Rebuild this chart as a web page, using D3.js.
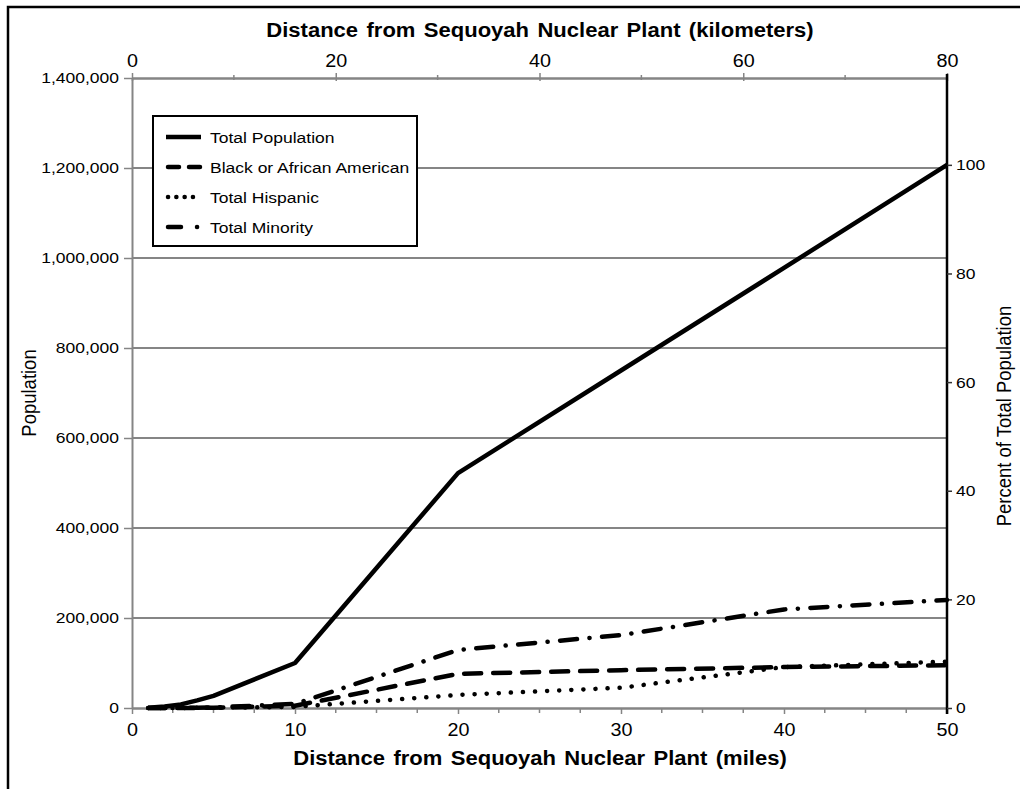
<!DOCTYPE html>
<html>
<head>
<meta charset="utf-8">
<script src="https://cdn.jsdelivr.net/npm/d3@7"></script>
<style>
	body { margin: 0; background: #fff; }
	svg { display: block; font-family: "Liberation Sans", Arial, sans-serif; }
</style>
</head>
<body>
<svg width="1020" height="789"></svg>
<script>
// distance rings (miles) and cumulative population
const miles = [1, 2, 3, 4, 5, 10, 20, 30, 40, 50];
const totalPop = [800, 3500, 8000, 17000, 27000, 100000, 522000, 750000, 978000, 1207000];
const blackPop = [0, 50, 150, 300, 500, 5000, 76000, 84000, 91000, 95000];
const hispanicPop = [10, 50, 150, 350, 600, 2500, 29000, 45000, 91000, 103000];
const minorityPop = [50, 150, 400, 800, 1300, 9000, 129000, 162000, 219000, 240000];

const popTicks = [0, 200000, 400000, 600000, 800000, 1000000, 1200000, 1400000];
const mileTicks = [0, 10, 20, 30, 40, 50];
const kmTicks = [0, 20, 40, 60, 80];
const pctTicks = [0, 20, 40, 60, 80, 100];

const seriesNames = ["Total Population", "Black or African American", "Total Hispanic", "Total Minority"];

const svg = d3.select("svg");
const SX = 1.13; // text in the original is a bit wide
const gray = "#858585";

const pLeft = 132, pRight = 947, pTop = 78, pBottom = 708;

const x = d3.scaleLinear().domain([0, 50]).range([pLeft, pRight]);
const xKm = d3.scaleLinear().domain([0, 80]).range([pLeft, pRight]);
const y = d3.scaleLinear().domain([0, 1400000]).range([pBottom, pTop]);
const total50 = totalPop[totalPop.length - 1];
const yPct = d3.scaleLinear().domain([0, 100 * 1400000 / total50]).range([pBottom, pTop]);

// outer frame (only left/top show)
svg.append("rect")
	.attr("x", 8).attr("y", 7)
	.attr("width", 1040).attr("height", 820)
	.attr("fill", "none").attr("stroke", "#000").attr("stroke-width", 2.5);

// gridlines
svg.append("g").selectAll("line")
	.data(popTicks.filter(d => d > 0 && d < 1400000))
	.enter().append("line")
	.attr("x1", pLeft).attr("x2", pRight)
	.attr("y1", d => y(d)).attr("y2", d => y(d))
	.attr("stroke", gray).attr("stroke-width", 2);

function styleAxis(g, color, width, size) {
	g.select(".domain").attr("stroke", color).attr("stroke-width", width);
	g.selectAll(".tick line").attr("stroke", color).attr("stroke-width", 1.5);
	g.selectAll(".tick text")
		.attr("fill", "#000")
		.style("font-size", size + "px")
		.style("font-family", '"Liberation Sans", Arial, sans-serif');
}

// left axis
const gLeft = svg.append("g")
	.attr("transform", "translate(" + pLeft + ",0)")
	.call(d3.axisLeft(y).tickValues(popTicks).tickSize(8).tickSizeOuter(0).tickFormat(d3.format(",")).tickPadding(6));
styleAxis(gLeft, gray, 2, 15.5);
gLeft.selectAll(".tick text").attr("transform", "scale(" + SX + ",1)").attr("x", -13 / SX);

// bottom axis
const gBottom = svg.append("g")
	.attr("transform", "translate(0," + pBottom + ")")
	.call(d3.axisBottom(x).tickValues(mileTicks).tickSize(6).tickSizeOuter(0).tickPadding(6));
styleAxis(gBottom, gray, 2.5, 17.5);
gBottom.selectAll(".tick text").attr("transform", "scale(" + SX + ",1)").attr("x", 0).attr("dy", "0.9em");

svg.append("g").selectAll("line")
	.data(d3.range(0, 50.01, 2.5).filter(d => d % 10 !== 0))
	.enter().append("line")
	.attr("x1", d => x(d)).attr("x2", d => x(d))
	.attr("y1", pBottom).attr("y2", pBottom + 5)
	.attr("stroke", gray).attr("stroke-width", 1.5);

// top axis (km)
const gTop = svg.append("g")
	.attr("transform", "translate(0," + pTop + ")")
	.call(d3.axisTop(xKm).tickValues(kmTicks).tickSize(5).tickSizeOuter(0).tickPadding(6));
styleAxis(gTop, gray, 2.5, 17.5);
gTop.selectAll(".tick text").attr("transform", "scale(" + SX + ",1)").attr("x", 0);
gTop.selectAll(".tick line").attr("y2", -5).attr("y1", 3);

svg.append("g").selectAll("line")
	.data([10, 30, 50, 70])
	.enter().append("line")
	.attr("x1", d => xKm(d)).attr("x2", d => xKm(d))
	.attr("y1", pTop - 3).attr("y2", pTop + 2)
	.attr("stroke", gray).attr("stroke-width", 1.5);

// right axis (percent)
const gRight = svg.append("g")
	.attr("transform", "translate(" + pRight + ",0)")
	.call(d3.axisRight(yPct).tickValues(pctTicks).tickSize(5).tickSizeOuter(0).tickPadding(5));
styleAxis(gRight, "#000", 2.5, 15.5);
gRight.select(".domain").attr("d", "M0," + (pTop - 4) + "V" + (pBottom + 6));
gRight.selectAll(".tick line").attr("stroke", "#333");
gRight.selectAll(".tick text").attr("transform", "scale(" + SX + ",1)").attr("x", 9 / SX);

// series lines
const lineGen = vals => d3.line()
	.x((d, i) => x(miles[i]))
	.y(d => y(d))(vals);

const styles = [
	{ vals: totalPop, dash: null, legendDash: null },
	{ vals: blackPop, dash: "17,12", legendDash: "11,10" },
	{ vals: hispanicPop, dash: "0.1,12", legendDash: "0.1,8.2" },
	{ vals: minorityPop, dash: "17,12.5,0.1,12.5", legendDash: "13,16,0.1,30" }
];

svg.append("g").selectAll("path")
	.data(styles)
	.enter().append("path")
	.attr("d", d => lineGen(d.vals))
	.attr("fill", "none")
	.attr("stroke", "#000")
	.attr("stroke-width", 4.5)
	.attr("stroke-linecap", d => d.dash ? "round" : "butt")
	.attr("stroke-linejoin", "round")
	.attr("stroke-dasharray", d => d.dash);

// legend
const legend = svg.append("g");
legend.append("rect")
	.attr("x", 153).attr("y", 116)
	.attr("width", 264).attr("height", 130)
	.attr("fill", "#fff").attr("stroke", "#000").attr("stroke-width", 2);

const rowY = d3.scalePoint().domain(seriesNames).range([137, 227]);
const rows = legend.selectAll("g.row")
	.data(styles)
	.enter().append("g")
	.attr("transform", (d, i) => "translate(0," + rowY(seriesNames[i]) + ")");

rows.append("line")
	.attr("x1", (d, i) => i === 0 ? 166 : 168).attr("x2", 201)
	.attr("stroke", "#000").attr("stroke-width", 4.5)
	.attr("stroke-linecap", d => d.legendDash ? "round" : "butt")
	.attr("stroke-dasharray", d => d.legendDash);

rows.append("text")
	.attr("transform", "translate(210,0) scale(" + SX + ",1)")
	.attr("dy", "0.36em")
	.style("font-size", "15.5px")
	.text((d, i) => seriesNames[i]);

// titles
function addText(txt, tx, ty, size, weight, rotate) {
	svg.append("text")
		.attr("transform", "translate(" + tx + "," + ty + ") scale(" + SX + ",1)" + (rotate ? " rotate(-90)" : ""))
		.attr("text-anchor", "middle")
		.style("font-size", size + "px")
		.style("font-weight", weight)
		.style("word-spacing", weight === "bold" ? "2px" : "0px")
		.text(txt);
}

addText("Distance from Sequoyah Nuclear Plant (kilometers)", 540, 37, 19.5, "bold", false);
addText("Distance from Sequoyah Nuclear Plant (miles)", 540, 765, 19.5, "bold", false);
addText("Population", 36, 393, 18.5, "normal", true);
addText("Percent of Total Population", 1011, 416, 18.5, "normal", true);
</script>
</body>
</html>
